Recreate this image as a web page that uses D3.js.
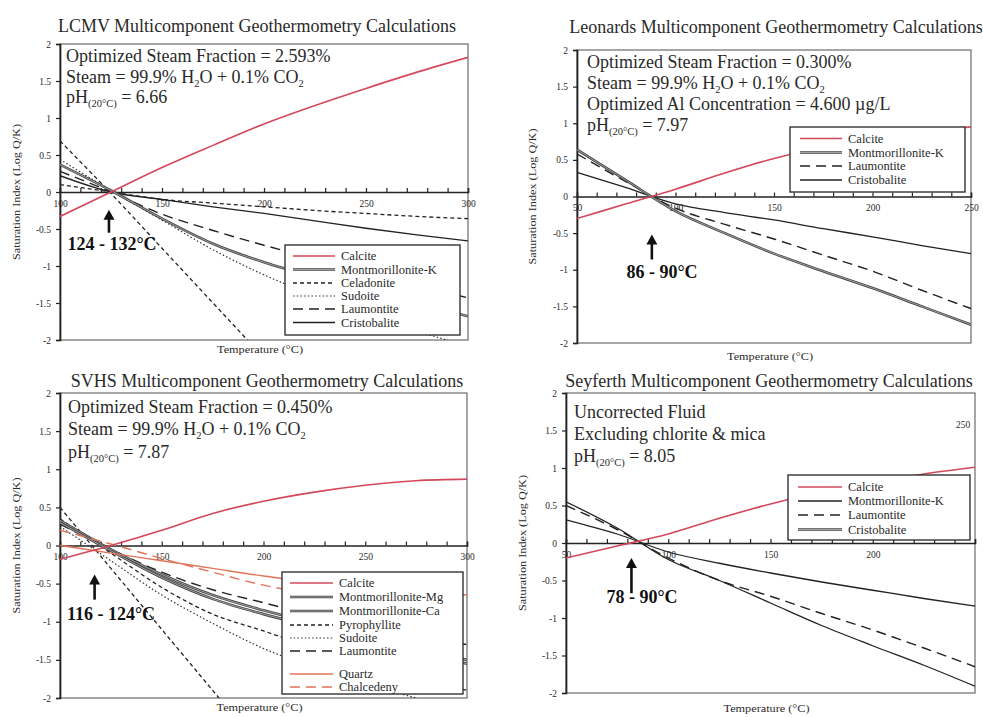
<!DOCTYPE html>
<html>
<head>
<meta charset="utf-8">
<script src="https://cdn.jsdelivr.net/npm/d3@7"></script>
<style>
  body { margin: 0; background: #fff; }
  svg text { font-family: "Liberation Serif", "Times New Roman", serif; fill: #2a2a2a; }
</style>
</head>
<body>
<svg id="chart" width="983" height="717"></svg>
<script>
// ---- LCMV (top left) ----
const lcmvTemp = [100, 125, 150, 175, 200, 225, 250, 275, 300];
const lcmvCalcite = [-0.33, 0.0, 0.33, 0.63, 0.92, 1.17, 1.4, 1.62, 1.82];
const lcmvMontK = [0.37, 0.02, -0.36, -0.7, -0.95, -1.15, -1.33, -1.5, -1.68];
const lcmvCeladonite = [0.1, 0.0, -0.1, -0.15, -0.2, -0.25, -0.29, -0.33, -0.36];
const lcmvSudoite = [0.44, 0.02, -0.38, -0.78, -1.12, -1.4, -1.65, -1.88, -2.08];
const lcmvLaumontite = [0.28, 0.0, -0.3, -0.52, -0.72, -0.9, -1.08, -1.26, -1.43];
const lcmvCristobalite = [0.22, 0.0, -0.1, -0.2, -0.29, -0.39, -0.49, -0.58, -0.66];
const lcmvSteep = [0.69, -0.02, -0.76, -1.5, -2.24, null, null, null, null];

// ---- Leonards (top right) ----
const leoTemp = [50, 75, 100, 125, 150, 175, 200, 225, 250];
const leoCalcite = [-0.3, -0.1, 0.1, 0.32, 0.52, 0.68, 0.8, 0.89, 0.95];
const leoMontK = [0.64, 0.22, -0.2, -0.5, -0.78, -1.02, -1.25, -1.5, -1.75];
const leoLaumontite = [0.58, 0.2, -0.16, -0.38, -0.58, -0.8, -1.02, -1.28, -1.53];
const leoCristobalite = [0.33, 0.12, -0.1, -0.22, -0.32, -0.44, -0.55, -0.67, -0.78];

// ---- SVHS (bottom left) ----
const svhsTemp = [100, 125, 150, 175, 200, 225, 250, 275, 300];
const svhsCalcite = [-0.18, 0.0, 0.2, 0.42, 0.58, 0.7, 0.79, 0.85, 0.87];
const svhsMontMg = [0.33, -0.05, -0.38, -0.65, -0.85, -1.02, -1.18, -1.34, -1.5];
const svhsMontCa = [0.3, -0.07, -0.42, -0.7, -0.9, -1.07, -1.24, -1.4, -1.55];
const svhsPyrophyllite = [0.35, -0.1, -0.55, -0.9, -1.12, -1.35, -1.55, -1.73, -1.9];
const svhsSudoite = [0.25, -0.2, -0.65, -1.02, -1.35, -1.6, -1.8, -2.0, -2.15];
const svhsLaumontite = [0.28, -0.05, -0.35, -0.58, -0.75, -0.92, -1.05, -1.18, -1.3];
const svhsQuartz = [0.0, -0.1, -0.2, -0.3, -0.4, -0.48, -0.55, -0.6, -0.65];
const svhsChalcedeny = [0.2, 0.02, -0.17, -0.35, -0.52, -0.64, -0.74, -0.82, -0.88];
const svhsSteep = [0.5, -0.3, -1.1, -1.9, -2.7, null, null, null, null];

// ---- Seyferth (bottom right) ----
const seyTemp = [50, 75, 100, 125, 150, 175, 200, 225, 250];
const seyCalcite = [-0.2, -0.04, 0.12, 0.33, 0.52, 0.68, 0.8, 0.92, 1.01];
const seyMontK = [0.55, 0.2, -0.22, -0.5, -0.8, -1.1, -1.37, -1.63, -1.91];
const seyLaumontite = [0.5, 0.18, -0.2, -0.5, -0.71, -0.94, -1.16, -1.4, -1.65];
const seyCristobalite = [0.31, 0.12, -0.12, -0.27, -0.4, -0.52, -0.63, -0.74, -0.84];

const yTicks = [-2, -1.5, -1, -0.5, 0, 0.5, 1, 1.5, 2];

const styles = {
  calcite: { stroke: "#d4485b", width: 1.6 },
  double: { stroke: "#444", width: 2.6, inner: "#b8b8b8" },
  solid: { stroke: "#222", width: 1.3 },
  shortDash: { stroke: "#222", width: 1.3, dash: "4,3" },
  dotted: { stroke: "#333", width: 1.2, dash: "1.5,2.2" },
  longDash: { stroke: "#222", width: 1.4, dash: "10,6" },
  quartz: { stroke: "#e0745a", width: 1.4 },
  chalcedeny: { stroke: "#e0745a", width: 1.4, dash: "10,6" }
};

const zip = (xs, ys) => xs.map((t, i) => [t, ys[i]]);

const panels = [
  {
    id: "lcmv", left: 60, right: 468, top: 44, bottom: 340, xDomain: [100, 300],
    xLabels: [100, 150, 200, 250, 300],
    title: "LCMV Multicomponent Geothermometry Calculations", titleX: 257, titleY: 32,
    noteX: 66, noteY: [62, 83, 103],
    notes: [
      [["Optimized Steam Fraction = 2.593%"]],
      [["Steam = 99.9% H"], ["2", "sub"], ["O + 0.1% CO"], ["2", "sub"]],
      [["pH"], ["(20°C)", "sub"], [" = 6.66"]]
    ],
    series: [
      { name: "", style: "shortDash", temps: lcmvTemp, vals: lcmvSteep },
      { name: "Celadonite", style: "shortDash", temps: lcmvTemp, vals: lcmvCeladonite },
      { name: "Sudoite", style: "dotted", temps: lcmvTemp, vals: lcmvSudoite },
      { name: "Laumontite", style: "longDash", temps: lcmvTemp, vals: lcmvLaumontite },
      { name: "Cristobalite", style: "solid", temps: lcmvTemp, vals: lcmvCristobalite },
      { name: "Montmorillonite-K", style: "double", temps: lcmvTemp, vals: lcmvMontK },
      { name: "Calcite", style: "calcite", temps: lcmvTemp, vals: lcmvCalcite }
    ],
    legendOrder: ["Calcite", "Montmorillonite-K", "Celadonite", "Sudoite", "Laumontite", "Cristobalite"],
    legend: { x: 285, y: 245, w: 175, h: 90, rows: [256, 269.5, 283, 296, 309, 322.5], s0: 293, s1: 335 },
    yTitleX: 20, xTitleY: 353,
    arrow: { temp: 124, from: -0.55, to: -0.24, label: "124 - 132°C", lx: 112, ly: 250 }
  },
  {
    id: "leo", left: 577, right: 971, top: 50, bottom: 343, xDomain: [50, 250],
    xLabels: [50, 100, 150, 200, 250],
    title: "Leonards Multicomponent Geothermometry Calculations", titleX: 776, titleY: 33,
    noteX: 587, noteY: [68, 89, 110, 131],
    notes: [
      [["Optimized Steam Fraction = 0.300%"]],
      [["Steam = 99.9% H"], ["2", "sub"], ["O + 0.1% CO"], ["2", "sub"]],
      [["Optimized Al Concentration = 4.600 µg/L"]],
      [["pH"], ["(20°C)", "sub"], [" = 7.97"]]
    ],
    series: [
      { name: "Laumontite", style: "longDash", temps: leoTemp, vals: leoLaumontite },
      { name: "Cristobalite", style: "solid", temps: leoTemp, vals: leoCristobalite },
      { name: "Montmorillonite-K", style: "double", temps: leoTemp, vals: leoMontK },
      { name: "Calcite", style: "calcite", temps: leoTemp, vals: leoCalcite }
    ],
    legendOrder: ["Calcite", "Montmorillonite-K", "Laumontite", "Cristobalite"],
    legend: { x: 790, y: 127, w: 175, h: 65, rows: [138.5, 152.5, 166, 180], s0: 800, s1: 842 },
    yTitleX: 536, xTitleY: 360,
    arrow: { temp: 88, from: -0.86, to: -0.52, label: "86 - 90°C", lx: 662, ly: 278 }
  },
  {
    id: "svhs", left: 60, right: 467, top: 393, bottom: 698, xDomain: [100, 300],
    xLabels: [100, 150, 200, 250, 300],
    title: "SVHS Multicomponent Geothermometry Calculations", titleX: 267, titleY: 387,
    noteX: 68, noteY: [413, 435, 458],
    notes: [
      [["Optimized Steam Fraction = 0.450%"]],
      [["Steam = 99.9% H"], ["2", "sub"], ["O + 0.1% CO"], ["2", "sub"]],
      [["pH"], ["(20°C)", "sub"], [" = 7.87"]]
    ],
    series: [
      { name: "", style: "shortDash", temps: svhsTemp, vals: svhsSteep },
      { name: "Pyrophyllite", style: "shortDash", temps: svhsTemp, vals: svhsPyrophyllite },
      { name: "Sudoite", style: "dotted", temps: svhsTemp, vals: svhsSudoite },
      { name: "Laumontite", style: "longDash", temps: svhsTemp, vals: svhsLaumontite },
      { name: "Montmorillonite-Mg", style: "double", temps: svhsTemp, vals: svhsMontMg },
      { name: "Montmorillonite-Ca", style: "double", temps: svhsTemp, vals: svhsMontCa },
      { name: "Quartz", style: "quartz", temps: svhsTemp, vals: svhsQuartz },
      { name: "Chalcedeny", style: "chalcedeny", temps: svhsTemp, vals: svhsChalcedeny },
      { name: "Calcite", style: "calcite", temps: svhsTemp, vals: svhsCalcite }
    ],
    legendOrder: ["Calcite", "Montmorillonite-Mg", "Montmorillonite-Ca", "Pyrophyllite", "Sudoite", "Laumontite", "Quartz", "Chalcedeny"],
    legend: { x: 282, y: 572, w: 181, h: 122, rows: [583, 597, 611, 625, 638, 651, 674, 687], s0: 290, s1: 333 },
    yTitleX: 20, xTitleY: 711,
    arrow: { temp: 117, from: -0.71, to: -0.38, label: "116 - 124°C", lx: 111, ly: 620 }
  },
  {
    id: "sey", left: 566, right: 975, top: 393, bottom: 693, xDomain: [50, 250],
    xLabels: [50, 100, 150, 200],
    title: "Seyferth Multicomponent Geothermometry Calculations", titleX: 769, titleY: 387,
    noteX: 574, noteY: [418, 440, 462],
    notes: [
      [["Uncorrected Fluid"]],
      [["Excluding chlorite & mica"]],
      [["pH"], ["(20°C)", "sub"], [" = 8.05"]]
    ],
    series: [
      { name: "Laumontite", style: "longDash", temps: seyTemp, vals: seyLaumontite },
      { name: "Cristobalite", style: "solid", temps: seyTemp, vals: seyCristobalite },
      { name: "Montmorillonite-K", style: "solid", temps: seyTemp, vals: seyMontK },
      { name: "Calcite", style: "calcite", temps: seyTemp, vals: seyCalcite }
    ],
    legendOrder: ["Calcite", "Montmorillonite-K", "Laumontite", "Cristobalite"],
    legendStyle: { "Cristobalite": "double" },
    legend: { x: 788, y: 475, w: 182, h: 65, rows: [487, 501, 515, 529.5], s0: 798, s1: 842 },
    yTitleX: 526, xTitleY: 712,
    arrow: { temp: 82, from: -0.67, to: -0.2, label: "78 - 90°C", lx: 642, ly: 603 },
    stray: { text: "250", x: 963, y: 428 }
  }
];

const svg = d3.select("#chart");

function strokePath(sel, st) {
  sel.attr("fill", "none")
    .attr("stroke", st.stroke)
    .attr("stroke-width", st.width)
    .attr("stroke-dasharray", st.dash || null);
}

function drawLine(g, d, st) {
  strokePath(g.append("path").attr("d", d), st);
  if (st.inner) {
    g.append("path").attr("d", d).attr("fill", "none")
      .attr("stroke", st.inner).attr("stroke-width", 0.8);
  }
}

function writeRich(textSel, parts) {
  parts.forEach(([s, kind]) => {
    const t = textSel.append("tspan").text(s);
    if (kind === "sub") {
      t.attr("font-size", 10.5).attr("dy", 4);
    } else if (textSel.selectAll("tspan").size() > 1) {
      t.attr("dy", -4);
    }
  });
}

function drawPanel(p) {
  const x = d3.scaleLinear().domain(p.xDomain).range([p.left, p.right]);
  const y = d3.scaleLinear().domain([-2, 2]).range([p.bottom, p.top]);
  const g = svg.append("g");

  g.append("text")
    .attr("x", p.titleX).attr("y", p.titleY)
    .attr("text-anchor", "middle").attr("font-size", 18)
    .text(p.title);

  g.append("rect")
    .attr("x", p.left).attr("y", p.top)
    .attr("width", p.right - p.left).attr("height", p.bottom - p.top)
    .attr("fill", "none").attr("stroke", "#777").attr("stroke-width", 1.3);

  // y axis on left edge
  g.append("g")
    .attr("transform", `translate(${p.left},0)`)
    .call(d3.axisLeft(y).tickValues(yTicks).tickSize(4).tickPadding(5).tickFormat(d => String(d)))
    .attr("font-family", "Liberation Serif").attr("font-size", 9.5)
    .call(a => a.select(".domain").attr("stroke", "#222").attr("stroke-width", 1.7))
    .call(a => a.selectAll(".tick line").attr("stroke", "#222").attr("stroke-width", 1.2));

  // x axis drawn along the zero line: minor ticks upward, labels below
  const minor = d3.range(p.xDomain[0] + 10, p.xDomain[1], 10);
  g.append("g")
    .attr("transform", `translate(0,${y(0)})`)
    .call(d3.axisBottom(x).tickValues(minor).tickSize(-4).tickFormat(""))
    .call(a => a.select(".domain").attr("stroke", "#222").attr("stroke-width", 1.7))
    .call(a => a.selectAll(".tick line").attr("stroke", "#222").attr("stroke-width", 1.2));
  g.append("g")
    .attr("transform", `translate(0,${y(0)})`)
    .call(d3.axisBottom(x).tickValues(p.xLabels).tickSize(0).tickPadding(8).tickFormat(d => String(d)))
    .attr("font-family", "Liberation Serif").attr("font-size", 9.5)
    .call(a => a.select(".domain").remove());

  // axis titles
  g.append("text")
    .attr("transform", `translate(${p.yTitleX},${y(0)}) rotate(-90)`)
    .attr("text-anchor", "middle").attr("font-size", 10.5)
    .attr("textLength", 136).attr("lengthAdjust", "spacingAndGlyphs")
    .text("Saturation Index (Log Q/K)");
  g.append("text")
    .attr("x", (p.left + p.right) / 2 - 4).attr("y", p.xTitleY)
    .attr("text-anchor", "middle").attr("font-size", 10.5)
    .attr("textLength", 86).attr("lengthAdjust", "spacingAndGlyphs")
    .text("Temperature (°C)");

  // series
  const clipId = "clip-" + p.id;
  g.append("clipPath").attr("id", clipId).append("rect")
    .attr("x", p.left).attr("y", p.top)
    .attr("width", p.right - p.left).attr("height", p.bottom - p.top);
  const lines = g.append("g").attr("clip-path", `url(#${clipId})`);
  const line = d3.line()
    .defined(d => d[1] != null)
    .x(d => x(d[0])).y(d => y(d[1]))
    .curve(d3.curveMonotoneX);
  p.series.forEach(s => drawLine(lines, line(zip(s.temps, s.vals)), styles[s.style]));

  // legend
  const L = p.legend;
  const leg = g.append("g");
  leg.append("rect")
    .attr("x", L.x).attr("y", L.y).attr("width", L.w).attr("height", L.h)
    .attr("fill", "#fff").attr("stroke", "#333").attr("stroke-width", 1.4);
  p.legendOrder.forEach((name, i) => {
    const s = p.series.find(d => d.name === name);
    const stName = (p.legendStyle && p.legendStyle[name]) || s.style;
    const ry = L.rows[i];
    drawLine(leg, `M${L.s0},${ry}H${L.s1}`, styles[stName]);
    leg.append("text")
      .attr("x", L.s1 + 6).attr("y", ry + 4)
      .attr("font-size", 12.5).text(name);
  });

  // notes
  p.notes.forEach((parts, i) => {
    const t = g.append("text")
      .attr("x", p.noteX).attr("y", p.noteY[i])
      .attr("font-size", 18);
    writeRich(t, parts);
  });

  // arrow marking the equilibrium temperature range
  const A = p.arrow;
  const ax = x(A.temp), yTop = y(A.to), yBot = y(A.from);
  g.append("line")
    .attr("x1", ax).attr("x2", ax).attr("y1", yTop + 8).attr("y2", yBot)
    .attr("stroke", "#111").attr("stroke-width", 2.6);
  g.append("path")
    .attr("d", `M${ax},${yTop}L${ax - 5.5},${yTop + 10}L${ax + 5.5},${yTop + 10}Z`)
    .attr("fill", "#111");
  g.append("text")
    .attr("x", A.lx).attr("y", A.ly)
    .attr("text-anchor", "middle").attr("font-size", 18).attr("font-weight", "bold")
    .style("fill", "#111")
    .text(A.label);

  if (p.stray) {
    g.append("text").attr("x", p.stray.x).attr("y", p.stray.y)
      .attr("text-anchor", "middle").attr("font-size", 9.5).text(p.stray.text);
  }
}

panels.forEach(drawPanel);
</script>
</body>
</html>
